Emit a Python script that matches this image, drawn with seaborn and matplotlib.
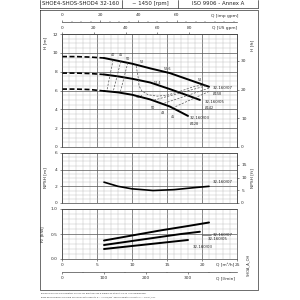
import numpy as np
import pandas as pd
import seaborn as sns
import matplotlib.pyplot as plt
import matplotlib.ticker as mticker
from matplotlib.lines import Line2D

# --- head curves (Q m3/h, H m); first 4 points are dashed (low flow)
q07 = [0, 2, 4, 6, 8, 10, 12.6, 15.4, 18.3, 21.0]
h07 = [9.6, 9.6, 9.55, 9.45, 9.15, 8.85, 8.35, 7.85, 7.1, 6.4]
q05 = [0, 2, 4, 6, 8, 10, 12.6, 15.4, 17.3, 19.7]
h05 = [7.85, 7.85, 7.8, 7.7, 7.5, 7.25, 6.85, 6.15, 5.65, 5.0]
q03 = [0, 2, 4, 6, 8, 10, 12.6, 15.4, 18.0]
h03 = [6.15, 6.15, 6.1, 5.95, 5.8, 5.55, 5.05, 4.3, 3.3]
models = ["32-160/07", "32-160/05", "32-160/03"]
diams = ["Ø158", "Ø142", "Ø128"]

# --- iso-efficiency lines
iso = {
    "40": ([7.3, 6.4], [9.25, 5.93]),
    "45": ([8.4, 7.3], [9.1, 5.85]),
    "50": ([9.4, 8.3], [8.95, 5.75]),
    "52": ([10.6, 10.9, 11.0, 11.4, 12.3, 13.6, 15.0, 17.0, 19.0, 20.4],
           [8.6, 7.3, 6.5, 5.95, 5.55, 5.4, 5.5, 5.95, 6.45, 6.6]),
    "50r": ([20.6, 13.0], [6.5, 4.95]),
    "48r": ([21.0, 14.4], [6.25, 4.6]),
    "45r": ([21.0, 15.8], [5.9, 4.15]),
}
eta_labels = [("40", 7.3, 9.8), ("45", 8.4, 9.8), ("50", 9.4, 9.3), ("52", 11.4, 9.0),
              ("52.6", 15.0, 8.25), ("52.4", 13.7, 6.8), ("51.1", 11.1, 5.3),
              ("52", 19.7, 7.1), ("50", 13.0, 4.15), ("48", 14.4, 3.6), ("45", 15.9, 3.2)]

# --- NPSH
q_npsh = [6, 8, 10, 13, 16, 19, 21]
npsh = [2.5, 2.0, 1.7, 1.5, 1.6, 1.85, 2.0]

# --- power
q_p07 = [6, 10, 14, 18, 21]
p07 = [0.37, 0.47, 0.57, 0.66, 0.73]
q_p05 = [6, 10, 14, 17, 19.7]
p05 = [0.28, 0.36, 0.44, 0.5, 0.545]
q_p03 = [6, 10, 14, 18]
p03 = [0.2, 0.26, 0.32, 0.38]

sns.set_theme(style="white")
plt.rcParams['font.family'] = ['DejaVu Sans']

fig = plt.figure(figsize=(3, 3), dpi=100)


def box(x0, y0, x1, y1):
    return [x0 / 300, 1 - y1 / 300, (x1 - x0) / 300, (y1 - y0) / 300]


def fline(xs, ys, **kw):
    fig.add_artist(Line2D([x / 300 for x in xs], [1 - y / 300 for y in ys],
                          transform=fig.transFigure, color="#333", lw=0.5, **kw))


def ftext(x, y, s, **kw):
    fig.text(x / 300, 1 - y / 300, s, va="center", **kw)


axH = fig.add_axes(box(62, 34, 237, 147))
axN = fig.add_axes(box(62, 153, 237, 203))
axP = fig.add_axes(box(62, 209, 237, 259))


def style(ax, ymax, ymaj, ymin):
    ax.set_xlim(0, 25)
    ax.set_ylim(0, ymax)
    ax.xaxis.set_major_locator(mticker.MultipleLocator(5))
    ax.xaxis.set_minor_locator(mticker.MultipleLocator(1))
    ax.yaxis.set_major_locator(mticker.MultipleLocator(ymaj))
    ax.yaxis.set_minor_locator(mticker.MultipleLocator(ymin))
    ax.grid(which="major", color="#555", lw=0.5)
    ax.grid(which="minor", color="#bbb", lw=0.3)
    ax.tick_params(which="major", labelsize=3.2, length=1.5, width=0.4, pad=1.5,
                   left=True, bottom=False, colors="#333")
    ax.tick_params(which="minor", length=0)
    for s in ax.spines.values():
        s.set_linewidth(0.5)
        s.set_color("#444")
    ax.set_xlabel("")


style(axH, 12, 2, 0.5)
style(axN, 6, 2, 0.5)
style(axP, 1.0, 0.5, 0.1)
axH.set_xticklabels([])
axN.set_xticklabels([])
axP.yaxis.set_major_formatter(mticker.FormatStrFormatter("%.1f"))
axP.tick_params(bottom=True)

# head curves
for q, h in zip([q07, q05, q03], [h07, h05, h03]):
    sns.lineplot(x=q[:4], y=h[:4], ax=axH, color="black", lw=1.2, ls=(0, (3, 1.5)), sort=False)
    sns.lineplot(x=q[3:], y=h[3:], ax=axH, color="black", lw=1.4, sort=False)

for key, (q, h) in iso.items():
    sns.lineplot(x=q, y=h, ax=axH, color="#555", lw=0.5, ls=(0, (3, 2)), sort=False)
for s, q, h in eta_labels:
    axH.text(q, h, s, fontsize=2.4, ha="center", va="center", color="#222")

for name, d, q, h in zip(models, diams, [21.6, 20.4, 18.3], [6.3, 4.8, 3.1]):
    axH.text(q, h, name, fontsize=2.8, ha="left", va="center", color="#222")
    axH.text(q, h - 0.62, d, fontsize=2.4, ha="left", va="center", color="#222")

axH.set_ylabel("H [m]", fontsize=3.2, labelpad=1)
axH.yaxis.set_label_coords(-0.086, 0.92)

# NPSH
sns.lineplot(x=q_npsh, y=npsh, ax=axN, color="black", lw=1.2)
axN.text(21.6, 2.5, models[0], fontsize=2.8, ha="left", va="center", color="#222")
axN.set_ylabel("NPSH [m]", fontsize=3.2)
axN.yaxis.set_label_coords(-0.086, 0.5)

# power
for q, p in zip([q_p07, q_p05, q_p03], [p07, p05, p03]):
    sns.lineplot(x=q, y=p, ax=axP, color="black", lw=1.4)
for name, q, p in zip(models, [21.6, 20.8, 18.7], [0.49, 0.39, 0.245]):
    axP.text(q, p, name, fontsize=2.8, ha="left", va="center", color="#222")
axP.plot([20.0, 21.3], [0.49, 0.49], color="#333", lw=0.4)
axP.set_ylabel("P$_2$ [kW]", fontsize=3.2)
axP.yaxis.set_label_coords(-0.086, 0.5)

# secondary scales
us = axH.secondary_xaxis("top", functions=(lambda q: q * 4.4029, lambda g: g / 4.4029))
us.set_xticks([0, 20, 40, 60, 80])
imp = axH.secondary_xaxis(1.11, functions=(lambda q: q * 3.6662, lambda g: g / 3.6662))
imp.set_xticks([0, 20, 40, 60])
imp.xaxis.set_minor_locator(mticker.MultipleLocator(5))
lmin = axP.secondary_xaxis(-0.26, functions=(lambda q: q * 16.667, lambda l: l / 16.667))
lmin.set_xticks([0, 100, 200, 300])
lmin.xaxis.set_minor_locator(mticker.MultipleLocator(50))
ftH = axH.secondary_yaxis("right", functions=(lambda m: m * 3.2808, lambda f: f / 3.2808))
ftH.set_yticks([0, 10, 20, 30])
ftN = axN.secondary_yaxis("right", functions=(lambda m: m * 3.2808, lambda f: f / 3.2808))
ftN.set_yticks([0, 5, 10, 15])
for sec in [us, imp, lmin, ftH, ftN]:
    sec.tick_params(which="major", labelsize=3.2, length=1.5, width=0.4, pad=1.5, colors="#333")
    sec.tick_params(which="minor", length=0.8, width=0.3)
    for s in sec.spines.values():
        s.set_linewidth(0.5)
        s.set_color("#444")

# unit labels
fig.text(252 / 300, 1 - 45 / 300, "H [ft]", fontsize=3.2, rotation=90,
         ha="center", va="center", color="#333")
fig.text(252 / 300, 1 - 178 / 300, "NPSH [ft]", fontsize=3.2, rotation=90,
         ha="center", va="center", color="#333")
ftext(225, 16, "Q [imp gpm]", fontsize=3.2, ha="center", color="#333")
ftext(225, 28, "Q [US gpm]", fontsize=3.2, ha="center", color="#333")
ftext(225, 265, "Q [m³/h]", fontsize=3.2, ha="center", color="#333")
ftext(225, 278, "Q [l/min]", fontsize=3.2, ha="center", color="#333")
fig.text(248 / 300, 1 - 265 / 300, "SHOA_A_OH", fontsize=2.6, rotation=90,
         ha="center", va="center", color="#333")

# frame and header
fline([40, 258, 258, 40, 40], [10, 10, 290, 290, 10])
fline([40, 258], [8, 8])
fline([40, 40], [0, 8])
fline([122, 122], [0, 8])
fline([178, 178], [0, 8])
fline([258, 258], [0, 8])
ftext(81, 3.5, "SHOE4-SHOS-SHOD4 32-160", fontsize=3.9, ha="center", color="#222")
ftext(150, 3.5, "~ 1450 [rpm]", fontsize=3.9, ha="center", color="#222")
ftext(218, 3.5, "ISO 9906 - Annex A", fontsize=3.9, ha="center", color="#222")

ftext(40, 293.5, "The NPSH values are laboratory values: for practical use a margin of at least 0.5 m is recommended.",
      fontsize=1.5, ha="left", color="#333")
ftext(40, 297.5, "These performances are valid for liquids with density ρ = 1.0 kg/dm³ and kinematic viscosity ν = 1 mm²/sec.",
      fontsize=1.5, ha="left", color="#333")

fig.savefig("out.png", dpi=100)
